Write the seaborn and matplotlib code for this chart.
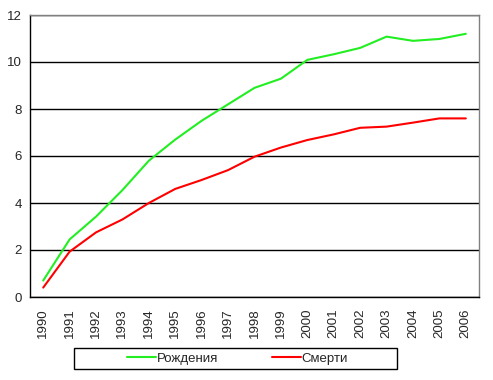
import numpy as np
import pandas as pd
import matplotlib
matplotlib.use("Agg")
import matplotlib.pyplot as plt
import matplotlib.patches as mpatches
import seaborn as sns

# =============================
# DATA
# =============================
years = list(range(1990, 2007))
births = [0.7, 2.45, 3.42, 4.55, 5.8, 6.7, 7.5, 8.2, 8.9, 9.29, 10.09, 10.33, 10.6, 11.08, 10.9, 10.98, 11.2]
deaths = [0.4, 1.93, 2.75, 3.3, 4.0, 4.6, 4.98, 5.4, 5.97, 6.36, 6.68, 6.92, 7.2, 7.25, 7.42, 7.6, 7.6]
series_names = ["Рождения", "Смерти"]
y_ticks = [0, 2, 4, 6, 8, 10, 12]

df = pd.DataFrame({
    "year": years * 2,
    "value": births + deaths,
    "series": [series_names[0]] * len(years) + [series_names[1]] * len(years),
})

# =============================
# PLOT
# =============================
sns.set_style("white")
plt.rcParams["font.family"] = ["Liberation Sans", "DejaVu Sans"]

fig = plt.figure(figsize=(4.93, 3.80), dpi=100)
ax = fig.add_axes([30 / 493, (380 - 297) / 380, (479 - 30) / 493, (297 - 15) / 380])

sns.lineplot(data=df, x="year", y="value", hue="series",
             palette={series_names[0]: "#22ee22", series_names[1]: "#ff0000"},
             linewidth=1.5, ax=ax, legend=True)

ax.set_xlim(years[0] - 0.5, years[-1] + 0.5)
ax.set_ylim(0, 12)
ax.set_yticks(y_ticks)
ax.set_yticklabels([str(t) for t in y_ticks], fontsize=9.5)
ax.set_xticks(years)
ax.set_xticklabels([str(y) for y in years], rotation=90, fontsize=9.5)
ax.set_xticks(np.arange(years[0] - 0.5, years[-1] + 1.0, 1.0), minor=True)
ax.tick_params(axis="x", which="major", length=0, pad=8)
ax.tick_params(axis="x", which="minor", length=5, width=1, color="black", direction="out")
ax.tick_params(axis="y", length=4, width=1, color="black", direction="out", pad=2)
ax.set_xlabel("")
ax.set_ylabel("")

ax.grid(axis="y", color="black", linewidth=1)
ax.set_axisbelow(True)
for side in ["left", "bottom"]:
    ax.spines[side].set_color("black")
    ax.spines[side].set_linewidth(1)
for side in ["top", "right"]:
    ax.spines[side].set_color("#808080")
    ax.spines[side].set_linewidth(1)

# legend: Excel-style wide box drawn separately
handles, labels = ax.get_legend_handles_labels()
ax.legend_.remove()
fig.legend(handles, labels, ncol=2, loc="center left",
           bbox_to_anchor=(127 / 493, 1 - 358.5 / 380),
           frameon=False, fontsize=9.5, handlelength=2.2,
           columnspacing=4.0, borderpad=0, borderaxespad=0,
           handletextpad=0.1)
box = mpatches.Rectangle((73.5 / 493, 1 - 369 / 380), (397 - 73.5) / 493, 21.5 / 380,
                         transform=fig.transFigure, fill=False,
                         edgecolor="black", linewidth=1)
fig.patches.append(box)

plt.savefig("out.png", dpi=100)
